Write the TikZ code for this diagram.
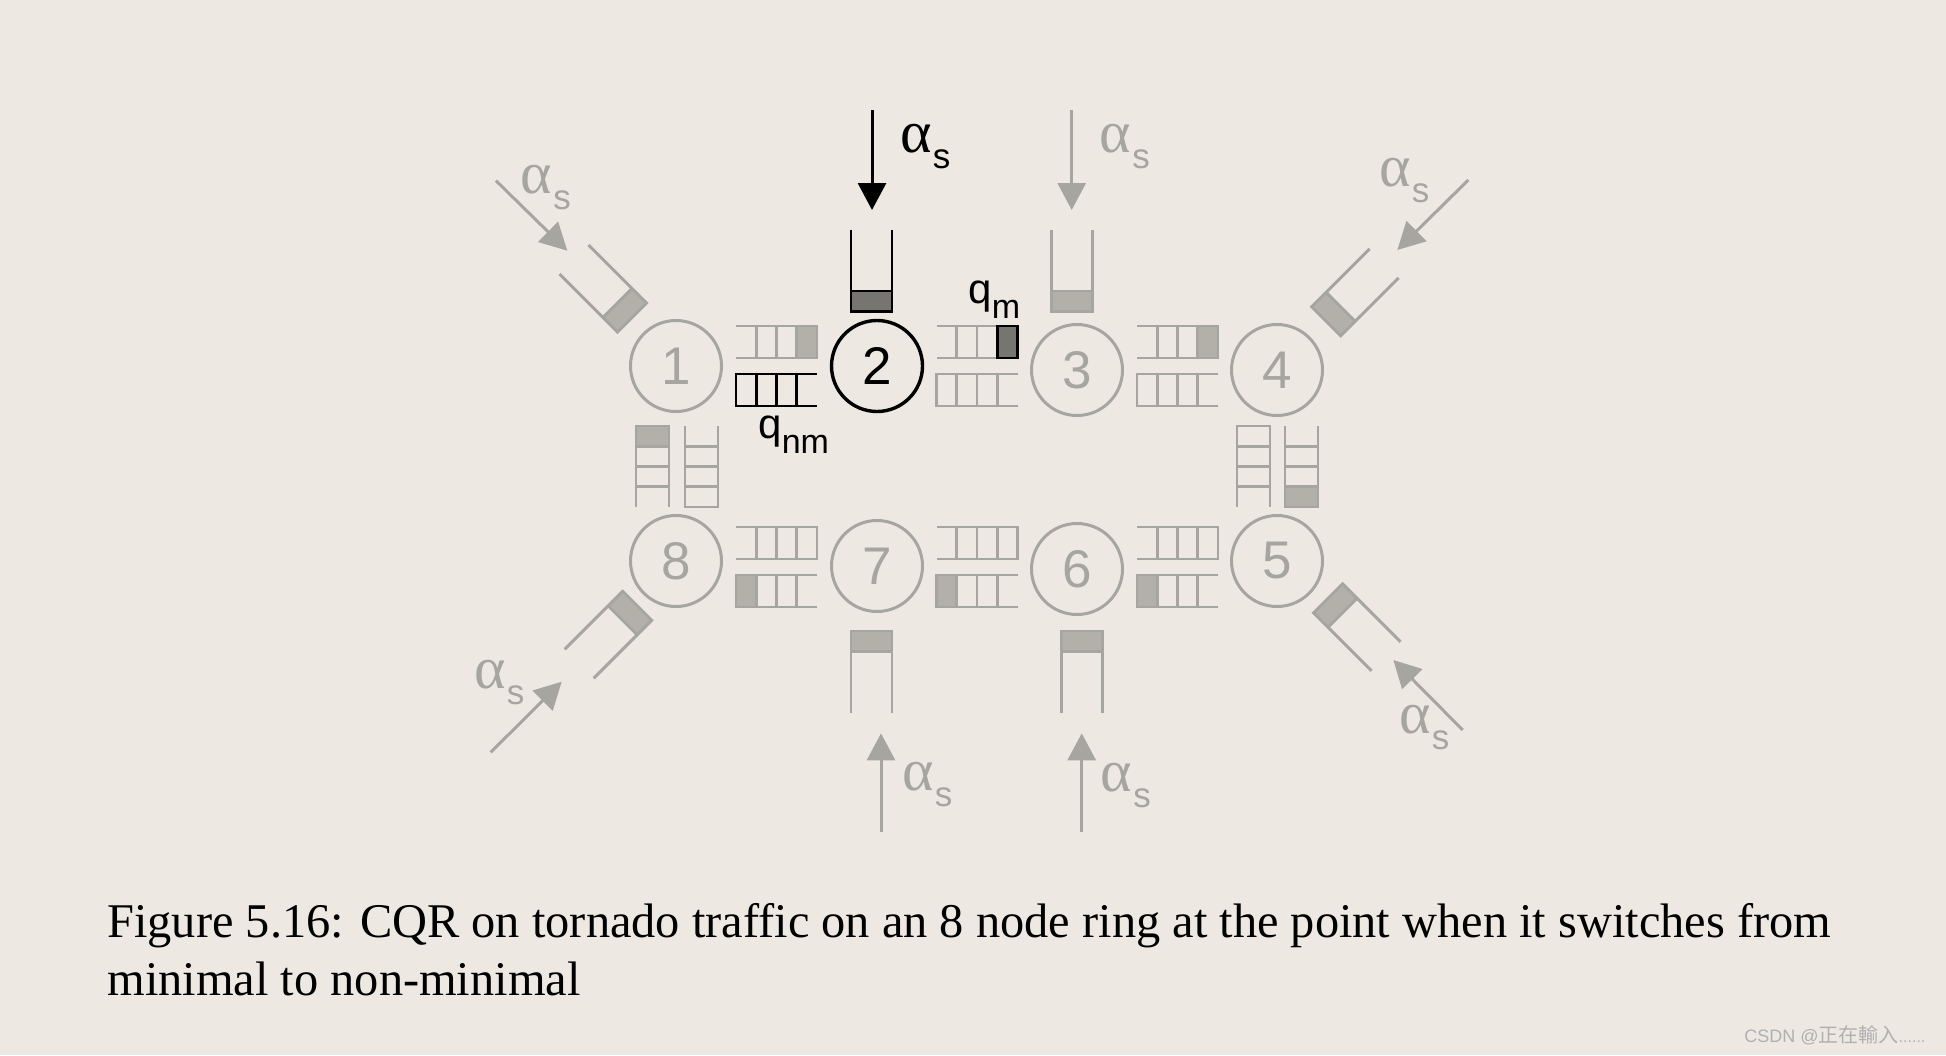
\documentclass[tikz,border=0pt]{standalone}
\usepackage{fontspec}
\setmainfont{Liberation Serif}
\newfontfamily\sansf{Liberation Sans}
\newfontfamily\serifa{Liberation Serif}
\newfontfamily\cjkf{Noto Sans CJK SC}
\usetikzlibrary{arrows.meta}
\definecolor{bg}{HTML}{EDE9E2}
\definecolor{gl}{HTML}{A6A5A0}
\definecolor{gf}{HTML}{B2B0A9}
\definecolor{df}{HTML}{77756F}
\definecolor{wm}{HTML}{B0B0B0}
\tikzset{
  qline/.style={line width=1.45pt},
  circ/.style={circle, draw, line width=1.5pt, minimum size=45.5pt, inner sep=0pt,
    font=\sansf\fontsize{26.5}{30}\selectfont},
  arr/.style={line width=1.5pt, -{Triangle[length=13.5pt,width=14pt]}},
  lab/.style={anchor=base west, inner sep=0pt},
}
% horizontal queue, open left, closed right
\newcommand{\hqol}[3]{%
  \draw[qline,#3] (#1,#2) -- ++(81,0) -- ++(0,32) -- ++(-81,0);
  \foreach \k in {1,2,3}{\draw[qline,#3] ({#1+20.25*\k},#2) -- ++(0,32);}
}
% horizontal queue, closed left, open right
\newcommand{\hqor}[3]{%
  \draw[qline,#3] ({#1+81},#2) -- (#1,#2) -- ++(0,32) -- ++(81,0);
  \foreach \k in {1,2,3}{\draw[qline,#3] ({#1+20.25*\k},#2) -- ++(0,32);}
}
% vertical queue, closed top, open bottom
\newcommand{\vqob}[3]{%
  \draw[qline,#3] (#1,{#2+81}) -- (#1,#2) -- ++(33,0) -- ++(0,81);
  \foreach \k in {1,2,3}{\draw[qline,#3] (#1,{#2+20.25*\k}) -- ++(33,0);}
}
% vertical queue, open top, closed bottom
\newcommand{\vqot}[3]{%
  \draw[qline,#3] (#1,#2) -- ++(0,81) -- ++(33,0) -- ++(0,-81);
  \foreach \k in {1,2,3}{\draw[qline,#3] (#1,{#2+20.25*\k}) -- ++(33,0);}
}
% injection queue: closed-end centre, direction, stroke, fill
\newcommand{\inj}[5]{%
  \begin{scope}[shift={(#1,#2)},rotate=#3]
    \fill[#5] (0,-20.5) rectangle (20.5,20.5);
    \draw[qline,#4] (82,-20.5) -- (0,-20.5) -- (0,20.5) -- (82,20.5)
      (20.5,-20.5) -- (20.5,20.5);
  \end{scope}
}
\newcommand{\als}{{\serifa\fontsize{30}{34}\selectfont α}\kern0.5pt\raisebox{-8pt}{\sansf\fontsize{17.5}{20}\selectfont s}}
\begin{document}
\begin{tikzpicture}[x=0.5pt,y=-0.5pt]
\useasboundingbox (0,0) rectangle (1946,1055);
\fill[bg] (0,0) rectangle (1946,1055);

% ring nodes
\node[circ, draw=gl, text=gl] (n1) at (676,366) {1};
\node[circ, draw=black, text=black, line width=1.7pt] (n2) at (877,366) {2};
\node[circ, draw=gl, text=gl] (n3) at (1077,370) {3};
\node[circ, draw=gl, text=gl] (n4) at (1277,370) {4};
\node[circ, draw=gl, text=gl] (n5) at (1277,561) {5};
\node[circ, draw=gl, text=gl] (n6) at (1077,569) {6};
\node[circ, draw=gl, text=gl] (n7) at (877,566) {7};
\node[circ, draw=gl, text=gl] (n8) at (676,561) {8};

% filled cells of ring queues
\fill[gf] (796.75,326) rectangle (817,358);
\fill[gf] (1197.75,326) rectangle (1218,358);
\fill[gf] (736,575) rectangle (756.25,607);
\fill[gf] (936.5,575) rectangle (956.75,607);
\fill[gf] (1137,575) rectangle (1157.25,607);
\fill[gf] (636,426) rectangle (669,446.25);
\fill[gf] (1285,486.75) rectangle (1318,507);

% top row queues
\hqol{736}{326}{gl}
\hqor{736}{374}{black}
\hqol{936.5}{326}{gl}
\hqor{936.5}{374}{gl}
\hqol{1137}{326}{gl}
\hqor{1137}{374}{gl}
\draw[qline, black, fill=df] (997.25,326) rectangle (1017.5,358);
% bottom row queues
\hqol{736}{527}{gl}
\hqor{736}{575}{gl}
\hqol{936.5}{527}{gl}
\hqor{936.5}{575}{gl}
\hqol{1137}{527}{gl}
\hqor{1137}{575}{gl}
% vertical queues
\vqob{636}{426}{gl}
\vqot{685}{426}{gl}
\vqob{1237}{426}{gl}
\vqot{1285}{426}{gl}

% injection queues
\inj{871.5}{311.5}{90}{black}{df}
\inj{1071.7}{311.5}{90}{gl}{gf}
\inj{632}{317.5}{135}{gl}{gf}
\inj{1326.2}{321.3}{45}{gl}{gf}
\inj{637.2}{605.8}{225}{gl}{gf}
\inj{1328}{598.3}{315}{gl}{gf}
\inj{871.5}{631}{270}{gl}{gf}
\inj{1081.7}{631}{270}{gl}{gf}

% injection arrows
\coordinate (s2) at (872,110);   \coordinate (e2) at (872,210);
\coordinate (s3) at (1071.7,110); \coordinate (e3) at (1071.7,210);
\coordinate (s1) at (496,180.7); \coordinate (e1) at (567.3,250.7);
\coordinate (s4) at (1468.3,180); \coordinate (e4) at (1397.3,250);
\coordinate (s8) at (490.7,752.3); \coordinate (e8) at (561.7,681.7);
\coordinate (s5) at (1462.7,730); \coordinate (e5) at (1393.3,660);
\coordinate (s7) at (881,831.7); \coordinate (e7) at (881,733.3);
\coordinate (s6) at (1081.7,831.7); \coordinate (e6) at (1081.7,733.3);
\draw[arr, black] (s2) -- (e2);
\draw[arr, gl] (s3) -- (e3);
\draw[arr, gl] (s1) -- (e1);
\draw[arr, gl] (s4) -- (e4);
\draw[arr, gl] (s8) -- (e8);
\draw[arr, gl] (s5) -- (e5);
\draw[arr, gl] (s7) -- (e7);
\draw[arr, gl] (s6) -- (e6);

% alpha labels
\node[lab, text=black] (l2) at (900,152) {\als};
\node[lab, text=gl] (l3) at (1099.5,152) {\als};
\node[lab, text=gl] (l1) at (520.5,193.3) {\als};
\node[lab, text=gl] (l4) at (1379,186.7) {\als};
\node[lab, text=gl] (l8) at (474,688.3) {\als};
\node[lab, text=gl] (l5) at (1399,733.3) {\als};
\node[lab, text=gl] (l7) at (902,790.5) {\als};
\node[lab, text=gl] (l6) at (1100.5,791.7) {\als};

% queue labels
\node[lab] (qm) at (968,303) {{\sansf\fontsize{21}{24}\selectfont q}\raisebox{-7.6pt}{\sansf\fontsize{17}{20}\selectfont m}};
\node[lab] (qnm) at (758,438) {{\sansf\fontsize{21}{24}\selectfont q}\raisebox{-7.5pt}{\sansf\fontsize{17}{20}\selectfont nm}};

% caption
\node[lab, font=\fontsize{24.2}{29}\selectfont] (cap1) at (107,937) {Figure 5.16: CQR on tornado traffic on an 8 node ring at the point when it switches from};
\node[lab, font=\fontsize{24.2}{29}\selectfont] (cap2) at (107,995) {minimal to non-minimal};

% watermark
\node[lab, text=wm] (wmk) at (1744,1042) {\sansf\fontsize{9}{12}\selectfont CSDN @{\cjkf\fontsize{10}{12}\selectfont 正在輸入}{\fontsize{8}{10}\selectfont ......}};
\end{tikzpicture}
\end{document}
